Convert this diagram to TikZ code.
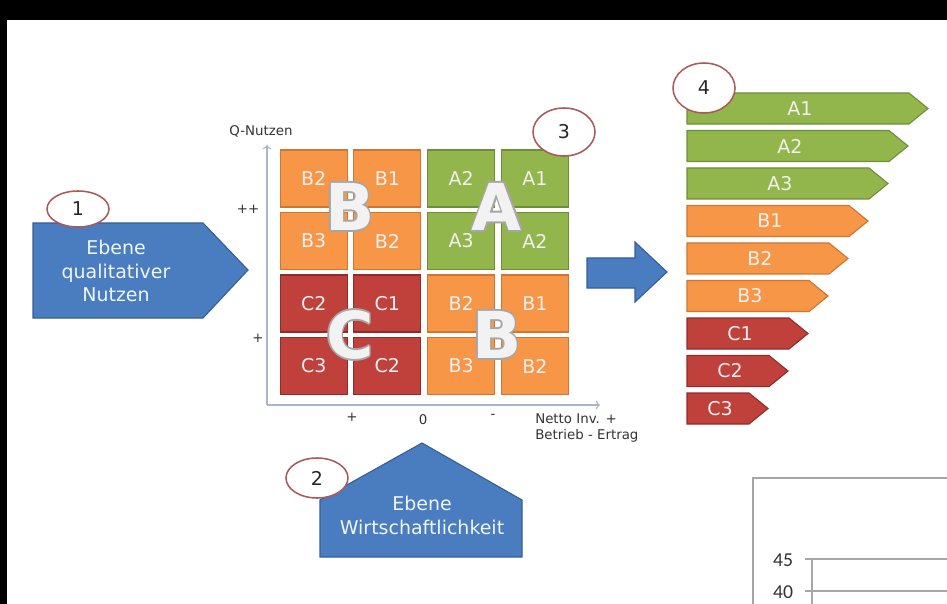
\documentclass[tikz,border=0pt]{standalone}
\usepackage{fontspec}
\setmainfont{DejaVu Sans}
\newfontfamily\chartfont{Carlito}
\usetikzlibrary{shapes.geometric,arrows.meta}

\definecolor{lvlblue}{RGB}{74,124,192}
\definecolor{lvlblueline}{RGB}{55,95,150}
\definecolor{catA}{RGB}{146,182,76}
\definecolor{catAline}{RGB}{112,142,58}
\definecolor{catB}{RGB}{246,150,70}
\definecolor{catBline}{RGB}{206,118,50}
\definecolor{catC}{RGB}{192,64,60}
\definecolor{catCline}{RGB}{146,44,42}
\definecolor{numring}{RGB}{170,90,90}
\definecolor{axisgray}{RGB}{165,182,205}

\begin{document}
\begin{tikzpicture}[x=0.25mm,y=-0.25mm,
  every node/.style={font=\fontsize{13.5}{17}\selectfont},
  lvl/.style={fill=lvlblue, draw=lvlblueline, line width=0.8pt},
  lvltxt/.style={text=white!92!lvlblue, align=center, inner sep=0pt},
  cell/.style={line width=0.8pt, minimum width=16.75mm, minimum height=14.25mm, inner sep=0pt, text=white!94!black},
  bigtxt/.style={font=\fontsize{46}{46}\selectfont\bfseries, inner sep=0pt},
  small/.style={font=\fontsize{9.5}{12}\selectfont, text=black!80, inner sep=0pt},
  axis/.style={axisgray, line width=0.8pt, -{To[length=3pt]}},
  num/.style={ellipse, draw=numring, fill=white, line width=1.1pt, minimum width=15.5mm, inner sep=0pt, text=black!85},
  bar/.style={line width=0.8pt},
  bartxt/.style={text=white!94!black, inner sep=0pt},
  chartline/.style={black!35, line width=0.8pt}]
\useasboundingbox (0,0) rectangle (947,604);
\fill[white] (0,0) rectangle (947,604);
\fill[black] (0,0) rectangle (947,20);
\fill[black] (0,0) rectangle (7,604);

% level 1: qualitativer Nutzen
\draw[lvl] (33,223) -- (203,223) -- (248,270) -- (203,318) -- (33,318) -- cycle;
\node[lvltxt] (lvl1) at (116,271) {Ebene\\qualitativer\\Nutzen};

% level 2: Wirtschaftlichkeit
\draw[lvl] (320,557) -- (320,500) -- (422,443) -- (522,500) -- (522,557) -- cycle;
\node[lvltxt] (lvl2) at (422,515) {Ebene\\Wirtschaftlichkeit};

% portfolio matrix
\coordinate (orig) at (267,405);
\coordinate (qtop) at (267,145);
\coordinate (xend) at (600,405);
\draw[axis] (orig) -- (qtop);
\draw[axis] (orig) -- (xend);
\node[small] (qlbl) at (261,131) {Q-Nutzen};
\node[small] (ypp) at (248,209) {++};
\node[small] (yp) at (258,338) {+};
\node[small] (xp) at (352,417) {+};
\node[small] (x0) at (423,420) {0};
\node[small] (xm) at (493,416) {-};
\node[small, anchor=west, align=left] (xlbl) at (535,428) {Netto Inv. +\\Betrieb - Ertrag};

\foreach \lbl/\cx/\cy/\k in {B2/1/1/B, B1/2/1/B, A2/3/1/A, A1/4/1/A,
                            B3/1/2/B, B2/2/2/B, A3/3/2/A, A2/4/2/A,
                            C2/1/3/C, C1/2/3/C, B2/3/3/B, B1/4/3/B,
                            C3/1/4/C, C2/2/4/C, B3/3/4/B, B2/4/4/B}
  \node[cell, fill=cat\k, draw=cat\k line] (cell\cx\cy) at ({240+73.7*\cx},{116+62.5*\cy}) {\lbl};

\foreach \nm/\ltr/\px/\py in {bigB/B/350/207, bigA/A/497/207, bigC/C/350/335, bigBB/B/497/335} {
  \foreach \dx/\dy [count=\j] in {-1.6/0, 1.6/0, 0/-1.6, 0/1.6, -1.1/-1.1, 1.1/1.1, -1.1/1.1, 1.1/-1.1}
    \node[bigtxt, text=black!35] (\nm-\j) at ({\px+\dx},{\py+\dy}) {\ltr};
  \node[bigtxt, text=white!95!black] (\nm) at (\px,\py) {\ltr};
}

% transfer arrow
\draw[lvl] (587,258) -- (635,258) -- (635,242) -- (667,272) -- (635,302) -- (635,288) -- (587,288) -- cycle;

% ranking
\foreach \lbl/\k/\i [evaluate=\i as \t using 93+37.5*\i, evaluate=\i as \tip using 928-20*\i]
    in {A1/A/0, A2/A/1, A3/A/2, B1/B/3, B2/B/4, B3/B/5, C1/C/6, C2/C/7, C3/C/8} {
  \draw[bar, fill=cat\k, draw=cat\k line] (687,\t) -- ({\tip-19},\t) -- (\tip,{\t+15.5})
    -- ({\tip-19},{\t+31}) -- (687,{\t+31}) -- cycle;
  \node[bartxt] (bar\lbl) at ({(687+\tip-15)/2},{\t+15.5}) {\lbl};
}

% step numbers
\node[num, minimum height=9mm] (n1) at (78,209) {1};
\node[num, minimum height=10mm] (n2) at (317,478) {2};
\node[num, minimum height=12mm] (n3) at (564,132) {3};
\node[num, minimum height=12.5mm] (n4) at (704,88) {4};

% chart fragment
\coordinate (chbl) at (753,604);
\coordinate (chtl) at (753,478);
\coordinate (chtr) at (947,478);
\draw[chartline] (chbl) -- (chtl) -- (chtr);
\coordinate (t45) at (805,559);
\coordinate (t45r) at (947,559);
\coordinate (t40) at (805,591);
\coordinate (t40r) at (947,591);
\coordinate (yax) at (812,559);
\coordinate (yaxb) at (812,604);
\draw[chartline] (t45) -- (t45r);
\draw[chartline] (t40) -- (t40r);
\draw[chartline] (yax) -- (yaxb);
\node[font=\chartfont\fontsize{14}{14}\selectfont, text=black!80, inner sep=0pt] (l45) at (783,560) {45};
\node[font=\chartfont\fontsize{14}{14}\selectfont, text=black!80, inner sep=0pt] (l40) at (783,592) {40};
\end{tikzpicture}
\end{document}
